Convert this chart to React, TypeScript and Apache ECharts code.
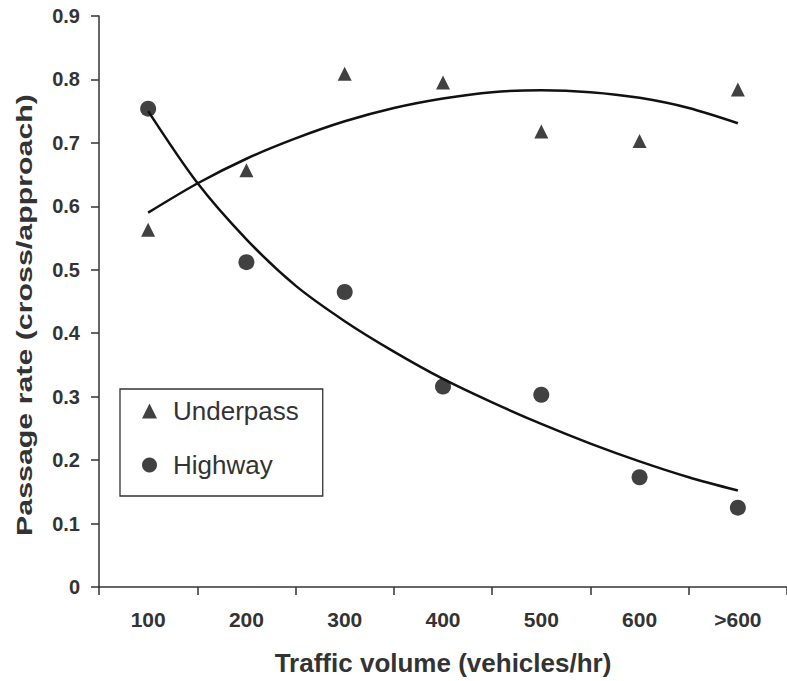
import React, { useEffect, useRef } from "react";
import * as echarts from "echarts";

const categories = ["100", "200", "300", "400", "500", "600", ">600"];
const underpass = [0.563, 0.657, 0.809, 0.795, 0.718, 0.703, 0.784];
const highway = [0.754, 0.512, 0.465, 0.316, 0.303, 0.173, 0.125];

// trend line positions (category index, half steps) and values
const trendX = [0, 0.5, 1, 1.5, 2, 2.5, 3, 3.5, 4, 4.5, 5, 5.5, 6];
const underpassTrend = [0.59, 0.636, 0.675, 0.707, 0.734, 0.755, 0.77, 0.78, 0.783, 0.78, 0.771, 0.755, 0.731];
const highwayTrend = [0.75, 0.637, 0.548, 0.475, 0.419, 0.371, 0.328, 0.291, 0.257, 0.226, 0.198, 0.173, 0.152];

const yTicks = { min: 0, max: 0.9, interval: 0.1 };
const xTitle = "Traffic volume (vehicles/hr)";
const yTitle = "Passage rate (cross/approach)";

export default function App() {
  const ref = useRef<HTMLDivElement>(null);
  useEffect(() => {
    if (!ref.current) return;
    const chart = echarts.init(ref.current, undefined, { renderer: "svg" });
    const axisColor = "#333";
    const font = "Arial, 'Liberation Sans', sans-serif";
    chart.setOption({
      animation: false,
      backgroundColor: "#fff",
      grid: { left: 99, top: 16, width: 696, height: 574, containLabel: false },
      legend: {
        show: true,
        selectedMode: false,
        orient: "vertical",
        left: 120,
        top: 389,
        data: [
          { name: "Underpass", icon: "triangle" },
          { name: "Highway", icon: "circle" },
        ],
        borderColor: "#333",
        borderWidth: 1.3,
        padding: [9, 24, 18, 22],
        itemGap: 28,
        itemWidth: 15,
        itemHeight: 15,
        textStyle: { fontSize: 26, color: "#333", fontFamily: font, padding: [0, 0, 0, 11] },
      },
      graphic: [
        {
          type: "text",
          x: 25,
          y: 315,
          rotation: Math.PI / 2,
          scaleX: 1.38,
          style: {
            text: yTitle,
            fontSize: 22,
            fontWeight: "bold",
            fill: "#333",
            fontFamily: font,
            align: "center",
            verticalAlign: "middle",
          },
        },
      ],
      xAxis: [
        {
          type: "category",
          data: categories,
          boundaryGap: true,
          name: xTitle,
          nameLocation: "middle",
          nameGap: 63,
          nameTextStyle: { fontSize: 26, fontWeight: "bold", color: "#333", fontFamily: font },
          axisLine: { lineStyle: { color: axisColor, width: 1.5 } },
          axisTick: { show: true, length: 8, inside: false, lineStyle: { color: axisColor, width: 1.5 } },
          axisLabel: { fontSize: 21, fontWeight: "bold", color: "#333", margin: 22, fontFamily: font },
          splitLine: { show: false },
        },
        {
          type: "value",
          min: -0.5,
          max: 6.5,
          show: false,
          splitLine: { show: false },
        },
      ],
      yAxis: {
        type: "value",
        min: yTicks.min,
        max: yTicks.max,
        interval: yTicks.interval,
        axisLine: { show: true, onZero: false, lineStyle: { color: axisColor, width: 1.5 } },
        axisTick: { show: true, length: 8, lineStyle: { color: axisColor, width: 1.5 } },
        axisLabel: {
          fontSize: 20,
          fontWeight: "bold",
          color: "#333",
          margin: 19,
          fontFamily: font,
          formatter: (v: number) => (v === 0 ? "0" : v.toFixed(1)),
        },
        splitLine: { show: false },
      },
      series: [
        {
          name: "Underpass trend",
          type: "line",
          xAxisIndex: 1,
          data: trendX.map((x, i) => [x, underpassTrend[i]]),
          smooth: 0.3,
          symbol: "none",
          lineStyle: { color: "#111", width: 2.5 },
          silent: true,
        },
        {
          name: "Highway trend",
          type: "line",
          xAxisIndex: 1,
          data: trendX.map((x, i) => [x, highwayTrend[i]]),
          smooth: 0.3,
          symbol: "none",
          lineStyle: { color: "#111", width: 2.5 },
          silent: true,
        },
        {
          name: "Underpass",
          type: "scatter",
          data: underpass,
          symbol: "triangle",
          symbolSize: 14,
          itemStyle: { color: "#111" },
        },
        {
          name: "Highway",
          type: "scatter",
          data: highway,
          symbol: "circle",
          symbolSize: 16,
          itemStyle: { color: "#111" },
        },
      ],
    });
    return () => chart.dispose();
  }, []);
  return (
    <div
      ref={ref}
      style={{ position: "absolute", left: 0, top: 0, width: 787, height: 681, overflow: "hidden" }}
    />
  );
}
